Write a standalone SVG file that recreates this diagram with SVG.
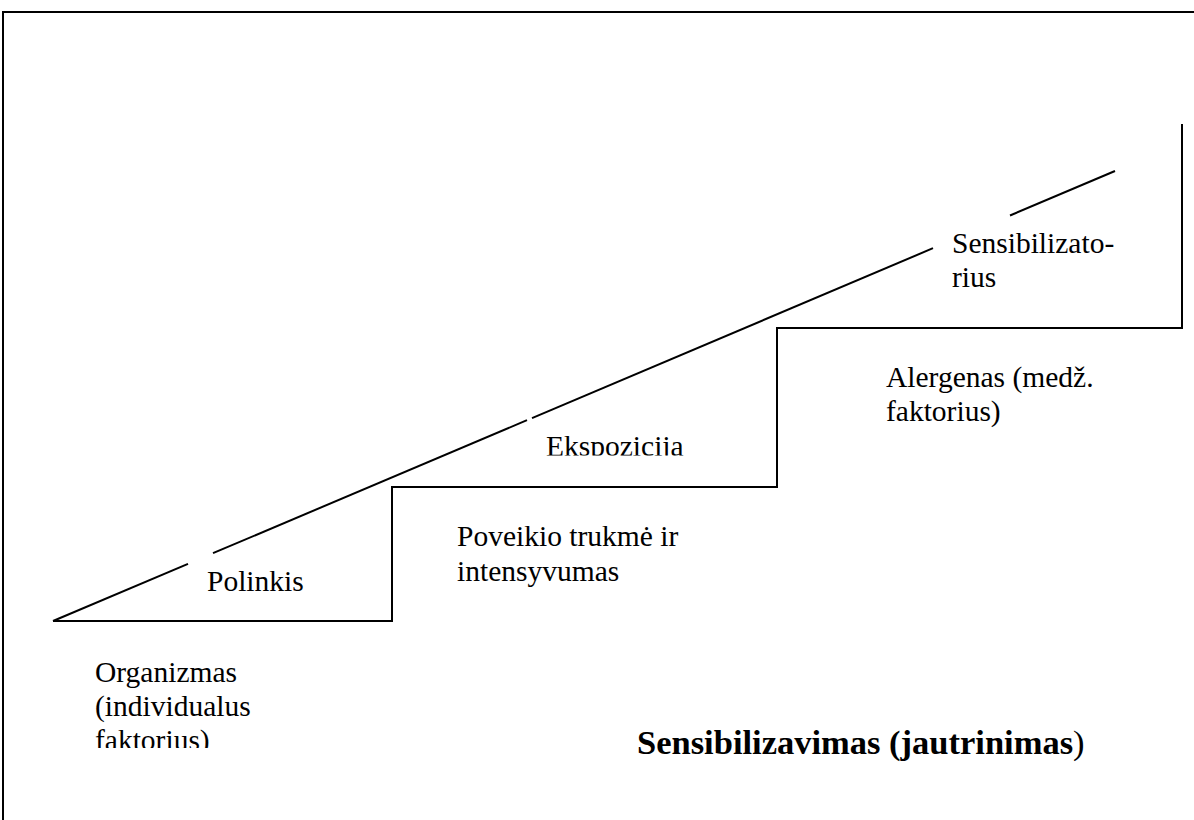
<svg xmlns="http://www.w3.org/2000/svg" width="1194" height="820" viewBox="0 0 1194 820">
  <defs>
    <style>
      .ln { stroke: #000; stroke-width: 2; fill: none; }
      .fr { stroke: #000; stroke-width: 2; fill: none; }
      .t { font-family: "Liberation Serif", "Times New Roman", serif; font-size: 29.5px; fill: #000; }
      .b { font-family: "Liberation Serif", "Times New Roman", serif; font-size: 34.5px; font-weight: bold; fill: #000; }
    </style>
    <clipPath id="clipEks"><rect x="540" y="420" width="200" height="35.5"/></clipPath>
    <clipPath id="clipOrg"><rect x="90" y="650" width="200" height="98"/></clipPath>
  </defs>
  <rect width="1194" height="820" fill="#fff"/>
  <g id="frame">
    <polyline class="fr" points="3,820 3,12 1194,12"/>
  </g>
  <g id="connectors">
    <polyline class="ln" points="1182,124 1182,328 777,328 777,487 392,487 392,621 53,621"/>
    <line class="ln" x1="53" y1="621" x2="188" y2="563.8"/>
    <line class="ln" x1="213" y1="553.2" x2="527" y2="420.2"/>
    <line class="ln" x1="532" y1="418.1" x2="933" y2="248.2"/>
    <line class="ln" x1="1010" y1="215.5" x2="1115" y2="171"/>
  </g>
  <g id="polinkis"><text class="t" x="207" y="591">Polinkis</text></g>
  <g id="ekspozicija"><text class="t" x="546" y="456" clip-path="url(#clipEks)">Ekspozicija</text></g>
  <g id="sensibilizatorius">
    <text class="t" x="952" y="253">Sensibilizato-</text>
    <text class="t" x="952" y="287">rius</text>
  </g>
  <g id="poveikio">
    <text class="t" x="457" y="546">Poveikio trukmė ir</text>
    <text class="t" x="457" y="581">intensyvumas</text>
  </g>
  <g id="alergenas">
    <text class="t" x="886" y="387">Alergenas (medž.</text>
    <text class="t" x="886" y="421">faktorius)</text>
  </g>
  <g id="organizmas" clip-path="url(#clipOrg)">
    <text class="t" x="95" y="682">Organizmas</text>
    <text class="t" x="95" y="716">(individualus</text>
    <text class="t" x="95" y="750">faktorius)</text>
  </g>
  <g id="title"><text class="b" x="637" y="754">Sensibilizavimas (jautrinimas<tspan font-weight="normal">)</tspan></text></g>
</svg>
